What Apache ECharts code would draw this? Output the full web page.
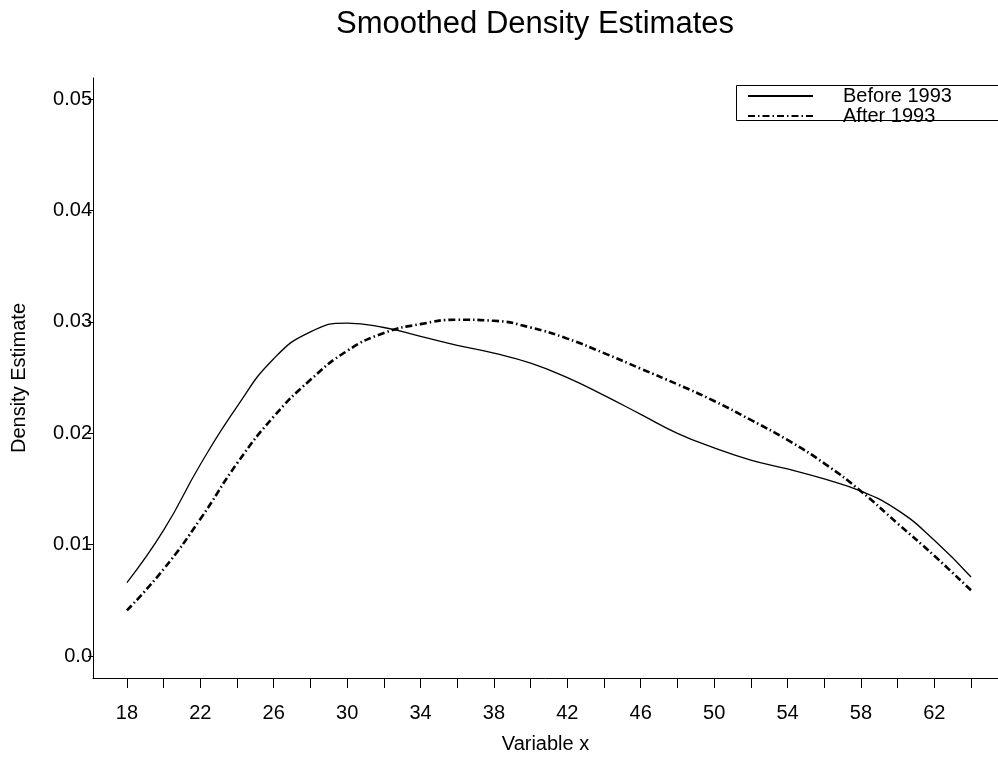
<!DOCTYPE html>
<html>
<head>
<meta charset="utf-8">
<script src="https://cdn.jsdelivr.net/npm/echarts@6/dist/echarts.min.js"></script>
<style>html,body{margin:0;padding:0;background:#fff;}#c{width:998px;height:769px;}</style>
</head>
<body>
<div id="c"></div>
<script>
var xValues = [18,20,22,24,26,28,30,32,34,36,38,40,42,44,46,48,50,52,54,56,58,60,62,64];
var before1993 = [0.0066,0.0113,0.0172,0.0224,0.0267,0.0291,0.0299,0.0295,0.0287,0.0279,0.0272,0.0263,0.0250,0.0234,0.0217,0.0200,0.0187,0.0176,0.0168,0.0159,0.0148,0.0131,0.0104,0.0071];
var after1993 = [0.0041,0.0078,0.0123,0.0173,0.0215,0.0248,0.0274,0.0290,0.0298,0.0302,0.0301,0.0295,0.0285,0.0272,0.0258,0.0244,0.0229,0.0212,0.0194,0.0173,0.0148,0.0119,0.0090,0.0059];
var xTickValues = [18,20,22,24,26,28,30,32,34,36,38,40,42,44,46,48,50,52,54,56,58,60,62,64];
var xLabelValues = [18,22,26,30,34,38,42,46,50,54,58,62];
var yTickValues = [0,0.01,0.02,0.03,0.04,0.05];
var yTickLabels = ['0.0','0.01','0.02','0.03','0.04','0.05'];
var seriesNames = ['Before 1993','After 1993'];

function zip(xs, ys){ return xs.map(function(x,i){ return [x, ys[i]]; }); }

var FONT = 'Liberation Sans, Arial, sans-serif';
var chart = echarts.init(document.getElementById('c'), null, {renderer:'canvas'});
chart.setOption({
  backgroundColor:'#fff',
  animation:false,
  title:{
    text:'Smoothed Density Estimates',
    left:336, top:9, padding:0,
    textStyle:{fontFamily:FONT, fontSize:31, fontWeight:'normal', color:'#000'}
  },
  legend:{
    orient:'vertical', left:747, top:86, padding:0, itemGap:0,
    itemWidth:65, itemHeight:18,
    data:seriesNames,
    itemStyle:{opacity:0},
    textStyle:{fontFamily:FONT, fontSize:20, color:'#000', padding:[0,0,0,25], lineHeight:18}
  },
  graphic:[{
    type:'rect', left:734, top:83, silent:true,
    shape:{width:264, height:35},
    style:{fill:'none', stroke:'#000', lineWidth:1}
  }],
  grid:{left:93, top:78, right:0, bottom:91, containLabel:false},
  xAxis:{
    type:'value', min:16.15, max:65.47,
    name:'Variable x', nameLocation:'middle', nameGap:56,
    nameTextStyle:{fontFamily:FONT, fontSize:20, color:'#000'},
    axisLine:{show:true, onZero:false, lineStyle:{color:'#000', width:1}},
    axisTick:{show:true, length:10, customValues:xTickValues, lineStyle:{color:'#000'}},
    axisLabel:{customValues:xLabelValues, margin:25, fontFamily:FONT, fontSize:20, color:'#000'},
    splitLine:{show:false}
  },
  yAxis:{
    type:'value', min:-0.00197, max:0.0519,
    name:'Density Estimate', nameLocation:'middle', nameGap:64,
    nameTextStyle:{fontFamily:FONT, fontSize:20, color:'#000'},
    axisLine:{show:true, onZero:false, lineStyle:{color:'#000', width:1}},
    axisTick:{show:true, length:5, customValues:yTickValues, lineStyle:{color:'#000'}},
    axisLabel:{customValues:yTickValues, margin:1, fontFamily:FONT, fontSize:20, color:'#000',
      formatter:function(v){ var i = yTickValues.findIndex(function(t){return Math.abs(t-v)<1e-9;}); return i>=0?yTickLabels[i]:''; }},
    splitLine:{show:false}
  },
  series:[
    {name:seriesNames[0], type:'line', data:zip(xValues,before1993), smooth:0.5, symbol:'none', showSymbol:false,
     lineStyle:{color:'#000', width:1.3, type:'solid'}, itemStyle:{color:'#000'}},
    {name:seriesNames[1], type:'line', data:zip(xValues,after1993), smooth:0.5, symbol:'none', showSymbol:false,
     lineStyle:{color:'#000', width:2.6, type:[7,3,1.5,3]}, itemStyle:{color:'#000'}}
  ]
});
</script>
</body>
</html>
